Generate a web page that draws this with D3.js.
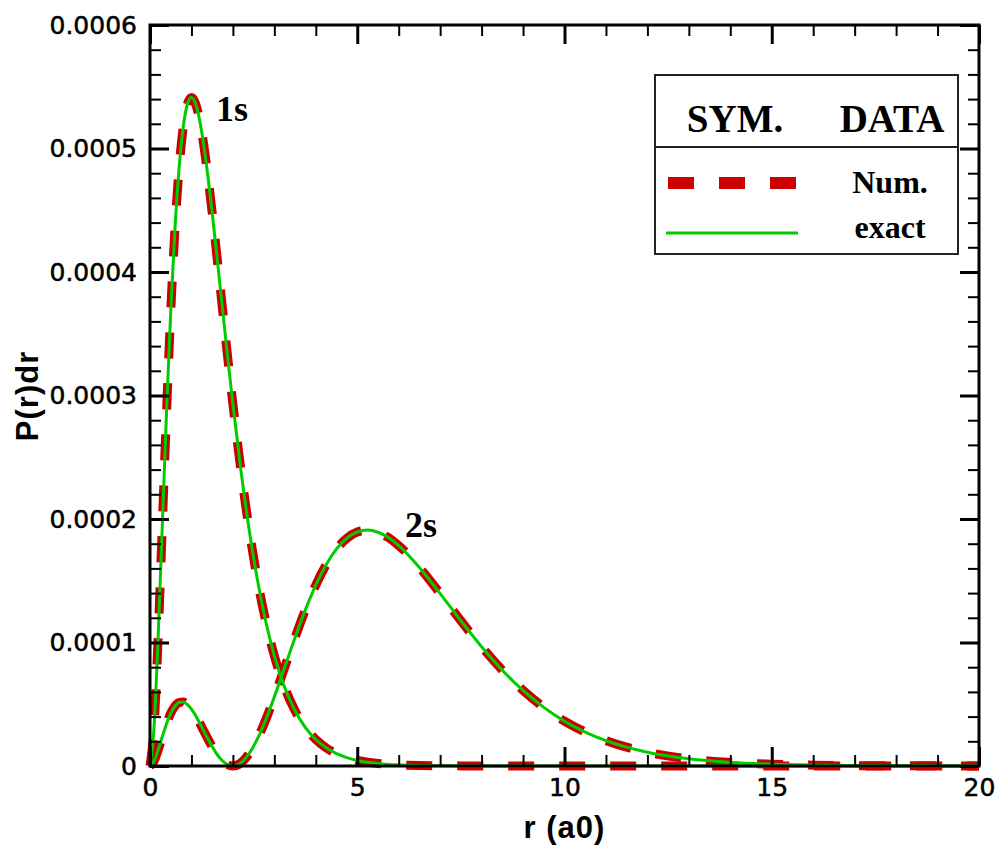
<!DOCTYPE html>
<html>
<head>
<meta charset="utf-8">
<script src="https://cdn.jsdelivr.net/npm/d3@7"></script>
<style>
  body { margin: 0; background: #fff; }
  .tick text { font-family: "DejaVu Sans", sans-serif; font-size: 25px; fill: #000; stroke: #000; stroke-width: 0.5px; }
  .axisTitle { font-family: "Liberation Sans", Arial, sans-serif; font-weight: bold; font-size: 31px; letter-spacing: 1px; }
  .serif { font-family: "Liberation Serif", "Times New Roman", serif; font-weight: bold; }
</style>
</head>
<body>
<script>
// radius grid (a0) shared by all curves
var rGrid = [0, 0.1, 0.2, 0.3, 0.4, 0.5, 0.6, 0.7, 0.8, 0.9, 1.0,
  1.1, 1.2, 1.3, 1.4, 1.5, 1.6, 1.7, 1.8, 1.9, 2.0,
  2.2, 2.4, 2.6, 2.8, 3.0, 3.25, 3.5, 3.75, 4.0, 4.25, 4.5, 4.75,
  5.0, 5.25, 5.5, 5.75, 6.0, 6.5, 7.0, 7.5, 8.0, 8.5, 9.0, 9.5, 10,
  11, 12, 13, 14, 15, 16, 17, 18, 19, 20];

// P(r)dr, in units of 1e-4
var p1s = [0, 0.327, 1.073, 1.976, 2.876, 3.679, 4.337, 4.833, 5.169, 5.356, 5.413,
  5.363, 5.225, 5.021, 4.767, 4.481, 4.174, 3.858, 3.541, 3.230, 2.931,
  2.377, 1.896, 1.492, 1.160, 0.892, 0.635, 0.447, 0.311, 0.215, 0.147, 0.100, 0.068,
  0.045, 0.030, 0.020, 0.013, 0.009, 0.004, 0.002, 0.001, 0, 0, 0, 0, 0,
  0, 0, 0, 0, 0, 0, 0, 0, 0, 0];
var p2s = [0, 0.041, 0.133, 0.241, 0.343, 0.427, 0.484, 0.514, 0.518, 0.498, 0.460,
  0.408, 0.347, 0.282, 0.218, 0.157, 0.103, 0.059, 0.027, 0.007, 0,
  0.027, 0.105, 0.226, 0.381, 0.560, 0.800, 1.040, 1.266, 1.465, 1.630, 1.758, 1.845,
  1.895, 1.910, 1.893, 1.850, 1.785, 1.608, 1.396, 1.176, 0.966, 0.776, 0.612, 0.475, 0.363,
  0.205, 0.111, 0.058, 0.029, 0.015, 0.007, 0.003, 0.002, 0.001, 0];

var xTicks = [0, 5, 10, 15, 20];
var yTicks = [0, 0.0001, 0.0002, 0.0003, 0.0004, 0.0005, 0.0006];
var yTickLabels = ["0", "0.0001", "0.0002", "0.0003", "0.0004", "0.0005", "0.0006"];
var xMinor = d3.range(0, 21, 1).filter(function(d) { return d % 5 !== 0; });
var yMinor = d3.range(0, 31, 1).filter(function(d) { return d % 5 !== 0; }).map(function(d) { return d * 0.00002; });

var width = 998, height = 847;
var plotLeft = 150, plotRight = 979, plotTop = 25, plotBottom = 766;

var svg = d3.select("body").append("svg")
    .attr("width", width)
    .attr("height", height);

var x = d3.scaleLinear().domain([0, 20]).range([plotLeft, plotRight]);
var y = d3.scaleLinear().domain([0, 0.0006]).range([plotBottom, plotTop]);

var line = d3.line()
    .x(function(d) { return x(d[0]); })
    .y(function(d) { return y(d[1] * 1e-4); })
    .curve(d3.curveMonotoneX);

var series = [p1s, p2s].map(function(vals) {
  return rGrid.map(function(r, i) { return [r, vals[i]]; });
});

// numerical solution (red dashed)
svg.selectAll(".num")
  .data(series)
  .enter()
  .append("path")
  .attr("class", "num")
  .attr("d", line)
  .attr("fill", "none")
  .attr("stroke", "#cc0000")
  .attr("stroke-width", 9)
  .attr("stroke-dasharray", "26,25");

// exact solution (green)
svg.selectAll(".exact")
  .data(series)
  .enter()
  .append("path")
  .attr("class", "exact")
  .attr("d", line)
  .attr("fill", "none")
  .attr("stroke", "#00cc00")
  .attr("stroke-width", 3);

// ticks, all pointing inward
function drawAxis(axis, tx, ty, w) {
  var g = svg.append("g")
    .attr("transform", "translate(" + tx + "," + ty + ")")
    .call(axis);
  g.select(".domain").remove();
  g.selectAll(".tick line").attr("stroke", "#000").attr("stroke-width", w);
  return g;
}

drawAxis(d3.axisBottom(x).tickValues(xTicks).tickSize(-19).tickPadding(12)
  .tickFormat(d3.format("d")), 0, plotBottom, 3);
drawAxis(d3.axisBottom(x).tickValues(xMinor).tickSize(-11).tickFormat(""), 0, plotBottom, 2);
drawAxis(d3.axisTop(x).tickValues(xTicks).tickSize(-19).tickFormat(""), 0, plotTop, 3);
drawAxis(d3.axisTop(x).tickValues(xMinor).tickSize(-11).tickFormat(""), 0, plotTop, 2);

drawAxis(d3.axisLeft(y).tickValues(yTicks).tickSize(-19).tickPadding(13)
  .tickFormat(function(d, i) { return yTickLabels[i]; }), plotLeft, 0, 3);
drawAxis(d3.axisLeft(y).tickValues(yMinor).tickSize(-11).tickFormat(""), plotLeft, 0, 2);
drawAxis(d3.axisRight(y).tickValues(yTicks).tickSize(-19).tickFormat(""), plotRight, 0, 3);
drawAxis(d3.axisRight(y).tickValues(yMinor).tickSize(-11).tickFormat(""), plotRight, 0, 2);

// frame
svg.append("rect")
  .attr("x", plotLeft)
  .attr("y", plotTop)
  .attr("width", plotRight - plotLeft)
  .attr("height", plotBottom - plotTop)
  .attr("fill", "none")
  .attr("stroke", "#000")
  .attr("stroke-width", 3);

// axis titles
svg.append("text")
  .attr("class", "axisTitle")
  .attr("x", (plotLeft + plotRight) / 2)
  .attr("y", 838)
  .attr("text-anchor", "middle")
  .text("r (a0)");

svg.append("text")
  .attr("class", "axisTitle")
  .attr("transform", "translate(38,396) rotate(-90)")
  .attr("text-anchor", "middle")
  .text("P(r)dr");

// curve labels
svg.append("text").attr("class", "serif")
  .attr("x", 216).attr("y", 121)
  .style("font-size", "36px")
  .text("1s");
svg.append("text").attr("class", "serif")
  .attr("x", 405).attr("y", 537)
  .style("font-size", "36px")
  .text("2s");

// legend
var legend = svg.append("g").attr("class", "legend");
legend.append("rect")
  .attr("x", 655).attr("y", 75)
  .attr("width", 303).attr("height", 179)
  .attr("fill", "#fff")
  .attr("stroke", "#222")
  .attr("stroke-width", 2);
legend.append("line")
  .attr("x1", 655).attr("x2", 958)
  .attr("y1", 147).attr("y2", 147)
  .attr("stroke", "#222")
  .attr("stroke-width", 2);
legend.append("text").attr("class", "serif")
  .attr("x", 735).attr("y", 132)
  .attr("text-anchor", "middle")
  .style("font-size", "39px")
  .text("SYM.");
legend.append("text").attr("class", "serif")
  .attr("x", 892).attr("y", 132)
  .attr("text-anchor", "middle")
  .style("font-size", "39px")
  .text("DATA");

legend.append("line")
  .attr("x1", 668).attr("x2", 797)
  .attr("y1", 183).attr("y2", 183)
  .attr("stroke", "#cc0000")
  .attr("stroke-width", 12)
  .attr("stroke-dasharray", "26,25");
legend.append("line")
  .attr("x1", 666).attr("x2", 798)
  .attr("y1", 233).attr("y2", 233)
  .attr("stroke", "#00cc00")
  .attr("stroke-width", 3);
legend.append("text").attr("class", "serif")
  .attr("x", 890).attr("y", 193)
  .attr("text-anchor", "middle")
  .style("font-size", "32px")
  .text("Num.");
legend.append("text").attr("class", "serif")
  .attr("x", 890).attr("y", 238)
  .attr("text-anchor", "middle")
  .style("font-size", "32px")
  .text("exact");
</script>
</body>
</html>
